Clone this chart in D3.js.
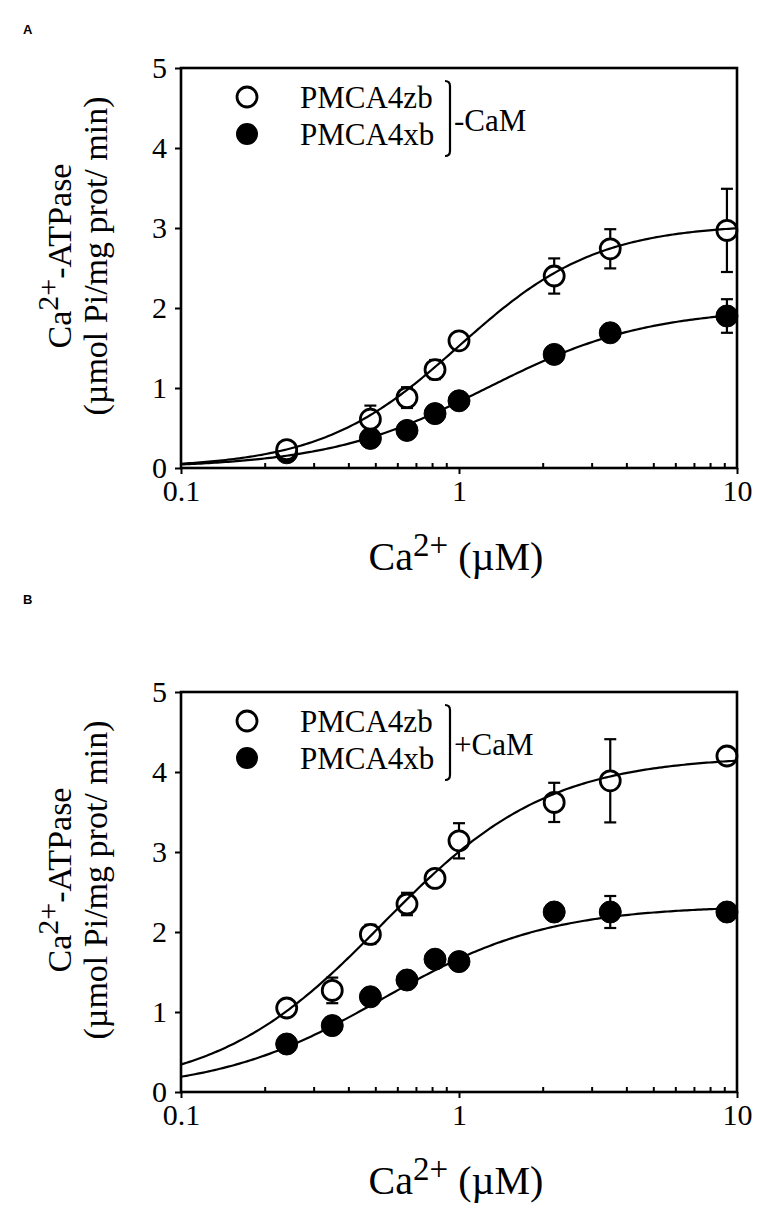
<!DOCTYPE html>
<html>
<head>
<meta charset="utf-8">
<script src="https://cdn.jsdelivr.net/npm/d3@7"></script>
<style>
  body { margin: 0; background: #fff; }
  svg text { font-family: "Liberation Serif", "DejaVu Serif", serif; fill: #000; }
  svg text.letter { font-family: "Liberation Sans", Arial, sans-serif; font-weight: bold; }
</style>
</head>
<body>
<svg id="drawing_region" width="765" height="1207"></svg>
<script>
// Panel A (-CaM)
const concA_zb = [0.24, 0.48, 0.65, 0.82, 1.0, 2.2, 3.5, 9.2];
const actA_zb  = [0.23, 0.61, 0.88, 1.23, 1.59, 2.40, 2.74, 2.97];
const errA_zb  = [0.05, 0.17, 0.13, 0.12, 0.05, 0.22, 0.245, 0.52];
const concA_xb = [0.24, 0.48, 0.65, 0.82, 1.0, 2.2, 3.5, 9.2];
const actA_xb  = [0.19, 0.37, 0.47, 0.68, 0.84, 1.42, 1.69, 1.90];
const errA_xb  = [0.03, 0.04, 0.04, 0.09, 0.05, 0.05, 0.05, 0.21];

// Panel B (+CaM)
const concB_zb = [0.24, 0.35, 0.48, 0.65, 0.82, 1.0, 2.2, 3.5, 9.2];
const actB_zb  = [1.05, 1.27, 1.97, 2.35, 2.67, 3.14, 3.62, 3.89, 4.20];
const errB_zb  = [0.05, 0.16, 0.12, 0.14, 0.05, 0.22, 0.245, 0.52, 0.05];
const concB_xb = [0.24, 0.35, 0.48, 0.65, 0.82, 1.0, 2.2, 3.5, 9.2];
const actB_xb  = [0.60, 0.83, 1.19, 1.40, 1.66, 1.63, 2.25, 2.25, 2.25];
const errB_xb  = [0.03, 0.03, 0.05, 0.08, 0.05, 0.05, 0.05, 0.20, 0.05];

// Hill fits: [Vmax, K0.5, nH]
const fitA_zb = [3.05, 1.0, 1.75];
const fitA_xb = [2.0, 1.26, 1.5];
const fitB_zb = [4.2, 0.53, 1.45];
const fitB_xb = [2.33, 0.53, 1.45];

const xMajor = [0.1, 1, 10];
const xMinor = [0.2,0.3,0.4,0.5,0.6,0.7,0.8,0.9,2,3,4,5,6,7,8,9];
const yTicks = [0, 1, 2, 3, 4, 5];
const legendNames = ["PMCA4zb", "PMCA4xb"];

const svg = d3.select('#drawing_region');

function hill(p, x) {
    return p[0] / (1 + Math.pow(p[1] / x, p[2]));
}

function DrawPanel(cfg) {
    const w = 737 - 181, h = 400;
    const g = svg.append('g').attr('transform', `translate(181,${cfg.top})`);

    const xscale = d3.scaleLog().domain([0.1, 10]).range([0, w]);
    const yscale = d3.scaleLinear().domain([0, 5]).range([h, 0]);

    // panel letter
    svg.append('text').attr('class', 'letter')
        .attr('x', 23).attr('y', cfg.letterY)
        .style('font-size', '13px')
        .text(cfg.letter);

    // error bars + points (open circles white-filled so short bars hide inside)
    function series(xs, ys, es, filled) {
        const data = xs.map((x, i) => ({x: x, y: ys[i], e: es[i]}));
        const eb = g.append('g').attr('stroke', '#000').attr('stroke-width', 2.2);
        data.forEach(d => {
            const cx = xscale(d.x), y1 = yscale(d.y + d.e), y2 = yscale(d.y - d.e);
            eb.append('line').attr('x1', cx).attr('x2', cx).attr('y1', y1).attr('y2', y2);
            eb.append('line').attr('x1', cx - 6).attr('x2', cx + 6).attr('y1', y1).attr('y2', y1);
            eb.append('line').attr('x1', cx - 6).attr('x2', cx + 6).attr('y1', y2).attr('y2', y2);
        });
        g.append('g').selectAll('circle').data(data).enter().append('circle')
            .attr('cx', d => xscale(d.x))
            .attr('cy', d => yscale(d.y))
            .attr('r', filled ? 11 : 10)
            .attr('fill', filled ? '#000' : '#fff')
            .attr('stroke', '#000')
            .attr('stroke-width', filled ? 1 : 2.8);
    }
    series(cfg.xXb, cfg.yXb, cfg.eXb, true);
    series(cfg.xZb, cfg.yZb, cfg.eZb, false);

    // fitted curves
    const samples = d3.range(0, 201).map(i => Math.pow(10, -1 + i / 100));
    const line = d3.line().x(d => xscale(d[0])).y(d => yscale(d[1]));
    [cfg.fitZb, cfg.fitXb].forEach(p => {
        g.append('path')
            .datum(samples.map(x => [x, hill(p, x)]))
            .attr('d', line)
            .attr('fill', 'none').attr('stroke', '#000').attr('stroke-width', 2.2);
    });

    // frame
    g.append('rect').attr('width', w).attr('height', h)
        .attr('fill', 'none').attr('stroke', '#000').attr('stroke-width', 2.6);

    // y axis
    const yaxis = g.append('g').call(d3.axisLeft(yscale).tickValues(yTicks)
        .tickFormat(d3.format('d')).tickSize(6).tickSizeOuter(0).tickPadding(8));
    yaxis.attr('font-family', null);
    yaxis.select('.domain').remove();
    yaxis.selectAll('line').attr('stroke-width', 2);
    yaxis.selectAll('text').style('font-size', '30px');

    // x axis, major ticks outside
    const xaxis = g.append('g').attr('transform', `translate(0,${h})`)
        .call(d3.axisBottom(xscale).tickValues(xMajor)
            .tickFormat(d => d3.format('~g')(d)).tickSize(6).tickSizeOuter(0).tickPadding(6));
    xaxis.attr('font-family', null);
    xaxis.select('.domain').remove();
    xaxis.selectAll('line').attr('stroke-width', 2);
    xaxis.selectAll('text').style('font-size', '30px');

    // x minor ticks inside
    const xminor = g.append('g').attr('transform', `translate(0,${h})`)
        .call(d3.axisBottom(xscale).tickValues(xMinor).tickFormat('').tickSize(-5).tickSizeOuter(0));
    xminor.select('.domain').remove();
    xminor.selectAll('line').attr('stroke-width', 2);

    // x label
    const xl = svg.append('text')
        .attr('x', 456).attr('y', cfg.top + h + 102)
        .attr('text-anchor', 'middle').style('font-size', '40px');
    xl.append('tspan').text('Ca');
    xl.append('tspan').attr('dy', -14).style('font-size', '33px').text('2+');
    xl.append('tspan').attr('dy', 14).text(' (\u00b5M)');

    // y label
    const cy = cfg.top + h / 2 - 12;
    const yl1 = svg.append('text')
        .attr('transform', `translate(71,${cy}) rotate(-90)`)
        .attr('text-anchor', 'middle').style('font-size', '34px');
    yl1.append('tspan').text('Ca');
    yl1.append('tspan').attr('dy', -13).style('font-size', '30px').text('2+');
    yl1.append('tspan').attr('dy', 13).text('-ATPase');
    svg.append('text')
        .attr('transform', `translate(107,${cy}) rotate(-90)`)
        .attr('text-anchor', 'middle').style('font-size', '34px')
        .text('(\u00b5mol Pi/mg prot/ min)');

    // legend
    const lg = svg.append('g');
    const ly = [cfg.top + 29, cfg.top + 66];
    lg.append('circle').attr('cx', 247).attr('cy', ly[0]).attr('r', 10)
        .attr('fill', 'none').attr('stroke', '#000').attr('stroke-width', 2.8);
    lg.append('circle').attr('cx', 247).attr('cy', ly[1]).attr('r', 11).attr('fill', '#000');
    legendNames.forEach((n, i) => {
        lg.append('text').attr('x', 300).attr('y', ly[i] + 11)
            .style('font-size', '31px').text(n);
    });
    const bx = 450, bt = cfg.top + 13, bb = cfg.top + 88;
    lg.append('path')
        .attr('d', `M${bx - 5},${bt} Q${bx},${bt} ${bx},${bt + 5} L${bx},${bb - 5} Q${bx},${bb} ${bx - 5},${bb}`)
        .attr('fill', 'none').attr('stroke', '#000').attr('stroke-width', 2.2);
    lg.append('text').attr('x', 454).attr('y', cfg.top + 63)
        .style('font-size', '31px').text(cfg.cam);
}

DrawPanel({
    top: 68, letter: 'A', letterY: 34, cam: '-CaM',
    xZb: concA_zb, yZb: actA_zb, eZb: errA_zb,
    xXb: concA_xb, yXb: actA_xb, eXb: errA_xb,
    fitZb: fitA_zb, fitXb: fitA_xb
});
DrawPanel({
    top: 692, letter: 'B', letterY: 604, cam: '+CaM',
    xZb: concB_zb, yZb: actB_zb, eZb: errB_zb,
    xXb: concB_xb, yXb: actB_xb, eXb: errB_xb,
    fitZb: fitB_zb, fitXb: fitB_xb
});
</script>
</body>
</html>
